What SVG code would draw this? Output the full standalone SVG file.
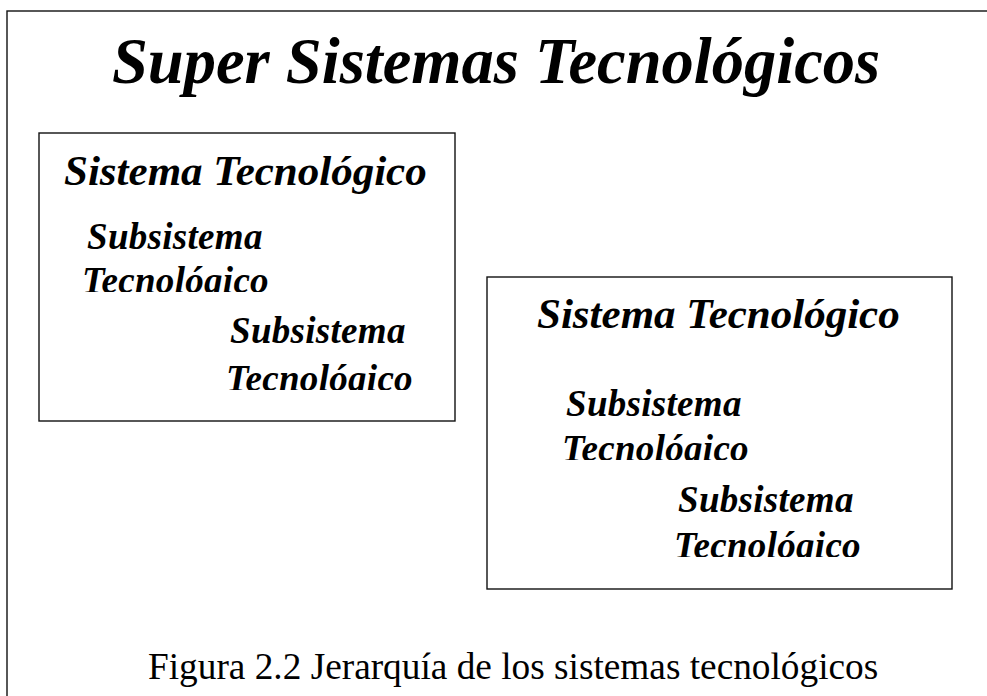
<svg xmlns="http://www.w3.org/2000/svg" width="987" height="696" viewBox="0 0 987 696">
<style>
.frame{fill:none;stroke:#111;stroke-width:1.4}
.t{font-family:"Liberation Serif","Times New Roman",serif;font-weight:bold;font-style:italic;fill:#000}
.title{font-size:64.5px}
.head{font-size:43px}
.sub{font-size:37px;letter-spacing:0.3px}
.cap{font-family:"Liberation Serif","Times New Roman",serif;font-size:37.3px;fill:#000}
</style>
<defs>
<clipPath id="c1"><rect x="60" y="255" width="300" height="37"/></clipPath>
<clipPath id="c2"><rect x="200" y="350" width="240" height="40"/></clipPath>
<clipPath id="c3"><rect x="540" y="420" width="300" height="40"/></clipPath>
<clipPath id="c4"><rect x="650" y="515" width="280" height="42"/></clipPath>
</defs>
<rect width="987" height="696" fill="#fff"/>
<g id="super-system">
<rect class="frame" x="7" y="11" width="1000" height="720"/>
<text class="t title" x="112" y="83">Super Sistemas Tecnológicos</text>
</g>
<g id="system-left">
<rect class="frame" x="39" y="133" width="416" height="288"/>
<text class="t head" x="64" y="185">Sistema Tecnológico</text>
</g>
<g id="subsystem-left-1">
<text class="t sub" x="87" y="249">Subsistema</text>
<text class="t sub" x="82" y="293" clip-path="url(#c1)">Tecnológico</text>
</g>
<g id="subsystem-left-2">
<text class="t sub" x="230" y="343">Subsistema</text>
<text class="t sub" x="226" y="391" clip-path="url(#c2)">Tecnológico</text>
</g>
<g id="system-right">
<rect class="frame" x="487" y="277" width="465" height="312"/>
<text class="t head" x="537" y="328">Sistema Tecnológico</text>
</g>
<g id="subsystem-right-1">
<text class="t sub" x="566" y="416">Subsistema</text>
<text class="t sub" x="562" y="461" clip-path="url(#c3)">Tecnológico</text>
</g>
<g id="subsystem-right-2">
<text class="t sub" x="678" y="512">Subsistema</text>
<text class="t sub" x="674" y="558" clip-path="url(#c4)">Tecnológico</text>
</g>
<g id="connectors"></g>
<g id="caption">
<text class="cap" x="148" y="679">Figura 2.2 Jerarquía de los sistemas tecnológicos</text>
</g>
</svg>
